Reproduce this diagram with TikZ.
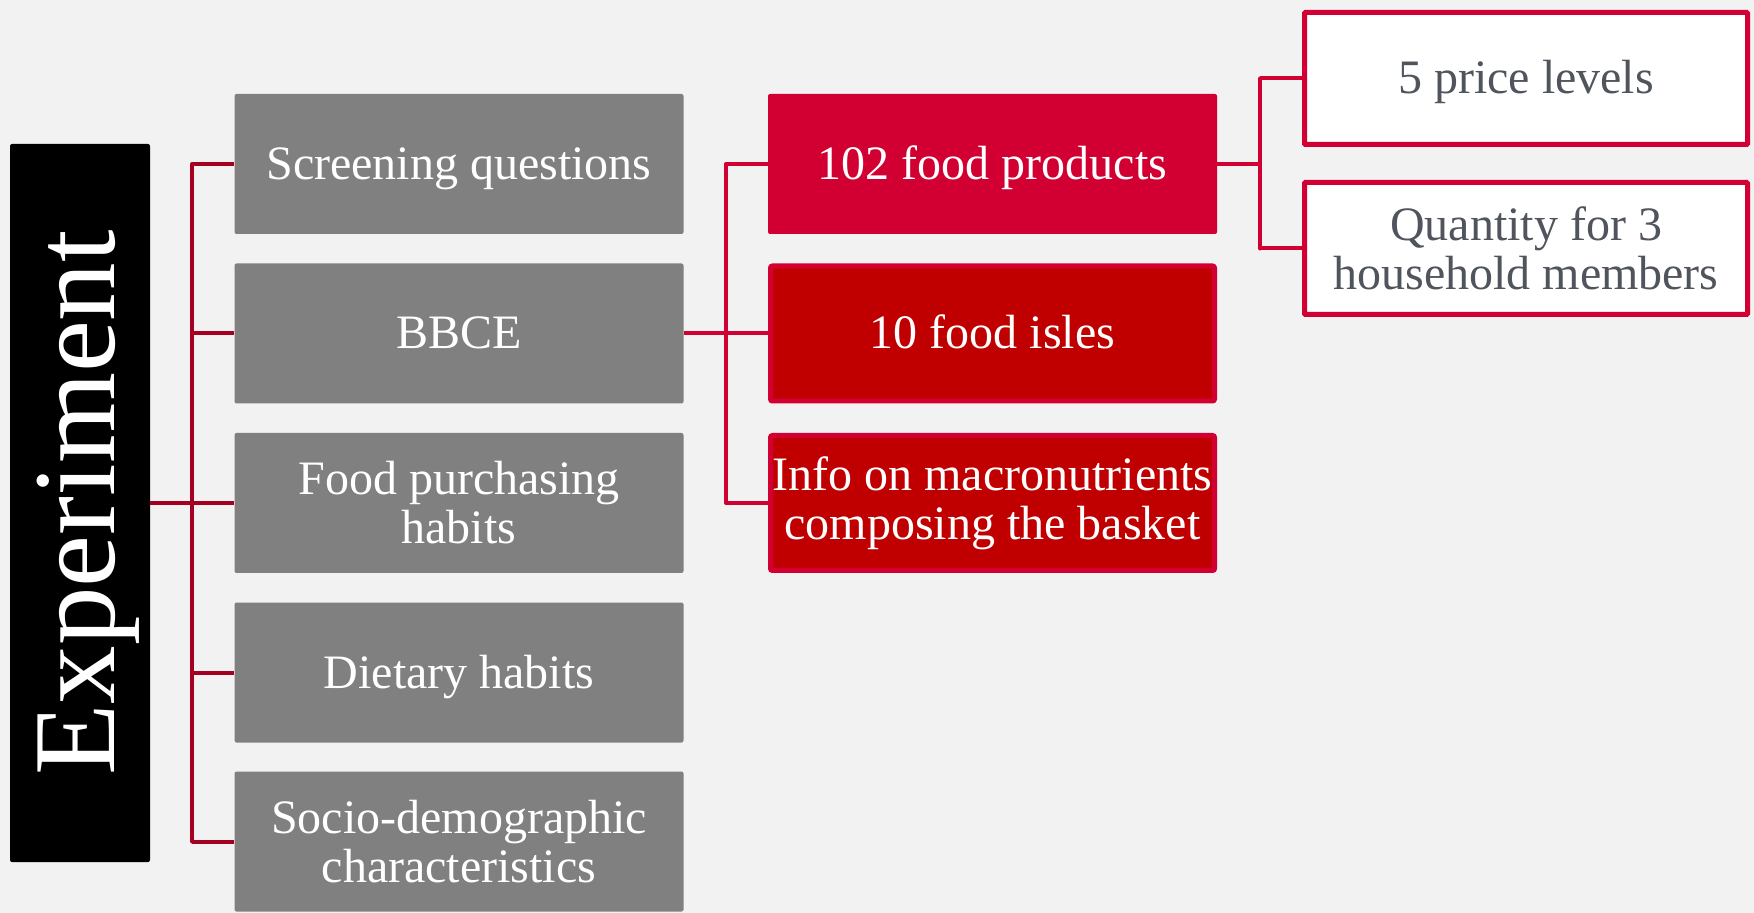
\documentclass[tikz,border=0pt]{standalone}
\usepackage{fontspec}
\setmainfont{Liberation Serif}
\usepackage{tikz}

\definecolor{bgcol}{HTML}{F2F2F2}
\definecolor{boxgray}{HTML}{808080}
\definecolor{linered}{HTML}{A50021}
\definecolor{brightred}{HTML}{D20032}
\definecolor{darkred}{HTML}{C00000}
\definecolor{textgray}{HTML}{50545C}

\begin{document}
\begin{tikzpicture}[
    x=0.5pt, y=-0.5pt,
    box/.style={rectangle, rounded corners=1pt, minimum width=224.5pt, minimum height=70pt, align=center, inner sep=0pt, font=\fontsize{24}{24.5}\selectfont, text=white},
    oneline/.style={text height=17pt, text depth=1.5pt},
    graybox/.style={box, fill=boxgray},
    redbox/.style={box, fill=brightred},
    darkbox/.style={box, fill=darkred, draw=brightred, line width=2.5pt, minimum width=222pt, minimum height=67.5pt},
    whitebox/.style={box, fill=white, draw=brightred, line width=2.5pt, rounded corners=0.5pt, minimum width=221.5pt, minimum height=66pt, text=textgray},
    titlebox/.style={rectangle, rounded corners=1pt, fill=black, text=white, minimum width=359pt, minimum height=70pt, inner sep=0pt, text height=44pt, text depth=10pt, font=\fontsize{58.5}{60}\selectfont},
    tree/.style={draw=linered, line width=2pt},
    subtree/.style={draw=brightred, line width=2pt}
]

    % Background
    \fill[bgcol] (0,0) rectangle (1754,913);

    % Title
    \node[titlebox, rotate=90] (exp) at (80,503) {Experiment};

    % Survey parts
    \node[graybox, oneline] (scr) at (459,164) {Screening questions};
    \node[graybox, oneline] (bbce) at (459,333.5) {BBCE};
    \node[graybox] (purch) at (459,503) {Food purchasing\\habits};
    \node[graybox, oneline] (diet) at (459,672.5) {Dietary habits};
    \node[graybox] (socio) at (459,841.5) {Socio-demographic\\characteristics};

    % BBCE components
    \node[redbox, oneline] (prod) at (992.5,164) {102 food products};
    \node[darkbox, oneline] (isles) at (992.5,333.5) {10 food isles};
    \node[darkbox] (info) at (992.5,503) {Info on macronutrients\\composing the basket};

    % Product attributes
    \node[whitebox, oneline] (price) at (1526,78.5) {5 price levels};
    \node[whitebox] (qty) at (1526,248.5) {Quantity for 3\\household members};

    % Branch points
    \coordinate (busA) at (192,503);
    \coordinate (busB) at (726,333.5);
    \coordinate (busC) at (1260,164);

    % Experiment tree
    \draw[tree] (exp.south) -- (busA);
    \draw[tree, line cap=round] (busA |- scr) -- (busA |- socio);
    \foreach \n in {scr, bbce, purch, diet, socio}
        \draw[tree] (busA |- \n) -- (\n.west);

    % BBCE tree
    \draw[subtree] (bbce.east) -- (busB);
    \draw[subtree, line cap=round] (busB |- prod) -- (busB |- info);
    \foreach \n in {prod, isles, info}
        \draw[subtree] (busB |- \n) -- (\n.west);

    % Product tree
    \draw[subtree] (prod.east) -- (busC);
    \draw[subtree, line cap=round] (busC |- price) -- (busC |- qty);
    \foreach \n in {price, qty}
        \draw[subtree] (busC |- \n) -- (\n.west);

\end{tikzpicture}
\end{document}
